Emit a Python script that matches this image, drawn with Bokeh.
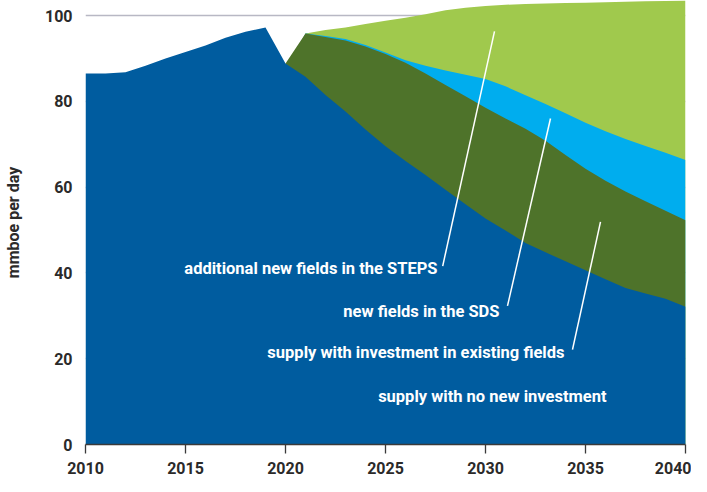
import numpy as np
from bokeh.plotting import figure
from bokeh.models import Range1d, FixedTicker
from bokeh.core.properties import value
from bokeh.embed import file_html
from bokeh.resources import INLINE

# ---- data (mmboe per day) ----
years = list(range(2010, 2041))
nan = float("nan")
# supply with no new investment
no_new_investment = [86.5, 86.5, 86.8, 88.3, 90.0, 91.5, 93.0, 94.8, 96.2, 97.2,
                     88.8, 85.7, 81.5, 77.6, 73.4, 69.5, 66.1, 62.8, 59.4, 56.0,
                     52.7, 49.9, 47.0, 44.8, 42.7, 40.6, 38.5, 36.5, 35.2, 34.0, 32.1]
# supply with investment in existing fields (increment)
existing_fields = [nan] * 10 + [0.0, 10.1, 13.5, 16.6, 19.4, 21.5, 22.9, 23.7, 24.4, 25.2,
                                25.8, 26.1, 26.6, 26.0, 24.8, 23.7, 23.0, 22.5, 21.5, 20.5, 20.2]
# new fields in the SDS (increment)
new_fields_sds = [nan] * 11 + [0.0, 0.2, 0.3, 0.3, 0.4, 0.6, 1.8, 3.4, 5.0,
                               6.7, 7.5, 7.8, 8.6, 9.7, 10.7, 11.5, 12.2, 12.9, 13.5, 14.0]
# additional new fields in the STEPS (increment)
additional_steps = [nan] * 11 + [0.0, 1.4, 2.7, 4.9, 7.4, 9.9, 12.0, 14.0, 15.6,
                                 17.0, 19.0, 21.3, 23.4, 25.7, 28.0, 30.1, 32.0, 33.7, 35.4, 37.2]

x_ticks = [2010, 2015, 2020, 2025, 2030, 2035, 2040]
y_ticks = [0, 20, 40, 60, 80, 100]

series_labels = ["additional new fields in the STEPS", "new fields in the SDS",
                 "supply with investment in existing fields", "supply with no new investment"]
# annotation anchors (data coords): text right end, leader start/end
label_x = [2027.6, 2030.7, 2033.95, 2036.05]
label_y = [41.0, 31.0, 21.4, 11.2]
leader_x0 = [2027.86, 2031.1, 2034.35]
leader_y0 = [41.6, 32.3, 22.1]
leader_x1 = [2030.45, 2033.25, 2035.75]
leader_y1 = [96.3, 76.0, 51.9]

colors = {"steps": "#a0c94d", "sds": "#00adee", "existing": "#4e732a", "none": "#005c9f"}
FONT = "Roboto"
TXT = "#2b2a29"

# ---- stacking ----
x = np.array(years, dtype=float)
base = np.array(no_new_investment, dtype=float)
top_existing = base + np.array(existing_fields, dtype=float)
top_sds = top_existing + np.array(new_fields_sds, dtype=float)
top_steps = top_sds + np.array(additional_steps, dtype=float)

p = figure(width=691, height=476, output_backend="svg", toolbar_location=None,
           x_range=Range1d(2010, 2040), y_range=Range1d(0, 103.5),
           min_border_left=70, min_border_right=6, min_border_top=0, min_border_bottom=30)
p.outline_line_color = None
p.background_fill_color = "white"
p.border_fill_color = "white"

p.varea(x=x, y1=0, y2=top_steps, fill_color=colors["steps"])
p.varea(x=x, y1=0, y2=top_sds, fill_color=colors["sds"])
p.varea(x=x, y1=0, y2=top_existing, fill_color=colors["existing"])
p.varea(x=x, y1=0, y2=base, fill_color=colors["none"])

p.segment(x0=leader_x0, y0=leader_y0, x1=leader_x1, y1=leader_y1,
          line_color="white", line_width=1.5)
p.text(x=label_x, y=label_y, text=series_labels, text_color="white",
       text_font=value(FONT), text_font_style="bold", text_font_size="16.5px",
       text_align="right", text_baseline="middle")

# axes
p.xgrid.grid_line_color = None
p.ygrid.grid_line_color = "#b8b8c4"
p.ygrid.grid_line_width = 1.5
p.xaxis.ticker = FixedTicker(ticks=x_ticks)
p.yaxis.ticker = FixedTicker(ticks=y_ticks)
p.xaxis.axis_line_color = "#3a3a3a"
p.xaxis.axis_line_width = 1.3
p.xaxis.major_tick_line_color = "#3a3a3a"
p.xaxis.major_tick_line_width = 1.3
p.xaxis.major_tick_out = 9
p.xaxis.major_tick_in = 0
p.xaxis.minor_tick_line_color = None
p.xaxis.major_label_standoff = 8
p.yaxis.axis_line_color = None
p.yaxis.major_tick_line_color = None
p.yaxis.minor_tick_line_color = None
p.yaxis.major_label_standoff = 7
p.yaxis.axis_label = "mmboe per day"
p.yaxis.axis_label_standoff = 19
for ax in (p.xaxis, p.yaxis):
    ax.major_label_text_font = FONT
    ax.major_label_text_font_style = "bold"
    ax.major_label_text_font_size = "16px"
    ax.major_label_text_color = TXT
    ax.axis_label_text_font = FONT
    ax.axis_label_text_font_style = "bold"
    ax.axis_label_text_font_size = "16px"
    ax.axis_label_text_color = TXT

open("out.html", "w").write(file_html(p, INLINE))
